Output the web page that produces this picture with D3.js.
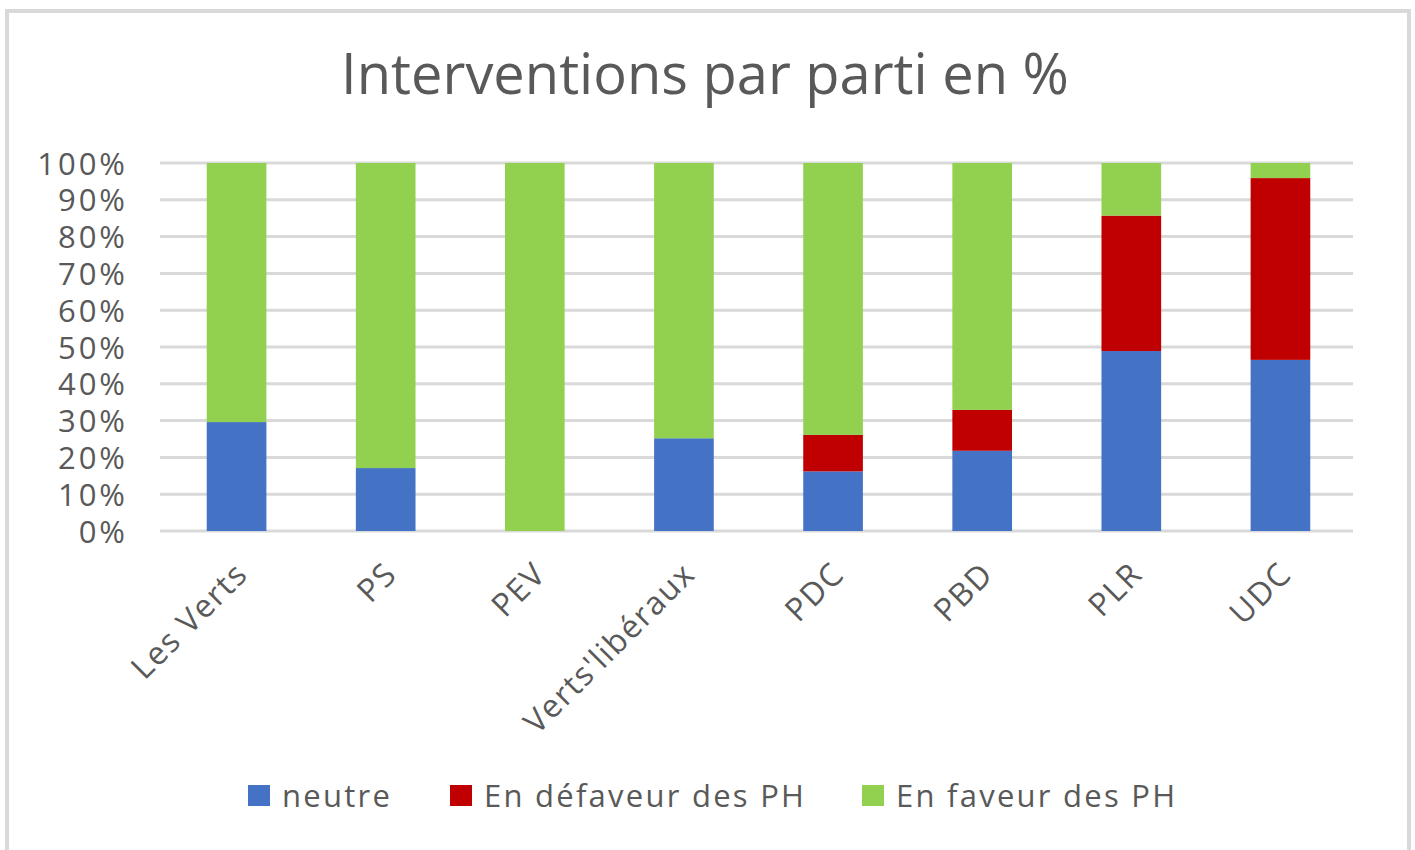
<!DOCTYPE html>
<html>
<head>
<meta charset="utf-8">
<script src="https://cdn.jsdelivr.net/npm/d3@7"></script>
<style>
  body { margin: 0; background: #fff; }
  text { font-family: "Open Sans", "Noto Sans", sans-serif; fill: #595959; }
</style>
</head>
<body>
<svg id="chart"></svg>
<script>
// data (percent)
let parties = ['Les Verts', 'PS', 'PEV', "Verts'libéraux", 'PDC', 'PBD', 'PLR', 'UDC'];
let neutre = [29.6, 17.1, 0, 25.2, 16.2, 21.8, 48.9, 46.5];
let defaveur = [0, 0, 0, 0, 9.9, 11.1, 36.8, 49.4];
let faveur = [70.4, 82.9, 100, 74.8, 73.9, 67.1, 14.3, 4.1];
let seriesNames = ['neutre', 'En défaveur des PH', 'En faveur des PH'];
let colors = ['#4472C4', '#C00000', '#92D050'];
let yTicks = [0, 10, 20, 30, 40, 50, 60, 70, 80, 90, 100];

let width = 1415;
let height = 850;
let plotLeft = 160, plotRight = 1353, plotTop = 163, plotBottom = 531;

let svg = d3.select('#chart').attr('width', width).attr('height', height);

// outer frame
svg.append('rect')
    .attr('x', 7).attr('y', 11)
    .attr('width', 1402).attr('height', 860)
    .attr('fill', 'none')
    .attr('stroke', '#d9d9d9')
    .attr('stroke-width', 4);

svg.append('text')
    .attr('x', 705).attr('y', 94)
    .attr('text-anchor', 'middle')
    .style('font-size', '56px')
    .text('Interventions par parti en %');

let table = parties.map((p, i) => ({ party: p, s0: neutre[i], s1: defaveur[i], s2: faveur[i] }));
let stack = d3.stack().keys(['s0', 's1', 's2'])(table);

let xScale = d3.scaleBand().domain(parties).range([plotLeft + 2, plotRight + 2]).paddingInner(0.6).paddingOuter(0.3);
let yScale = d3.scaleLinear().domain([0, 100]).range([plotBottom, plotTop]);

// gridlines
svg.append('g')
    .selectAll('line')
    .data(yTicks)
    .enter()
    .append('line')
    .attr('x1', plotLeft).attr('x2', plotRight)
    .attr('y1', (d) => yScale(d)).attr('y2', (d) => yScale(d))
    .attr('stroke', '#d9d9d9')
    .attr('stroke-width', 3);

// y axis labels
let yAxis = d3.axisLeft(yScale).tickValues(yTicks).tickFormat((d) => d + '%').tickSize(0).tickPadding(0);
let gy = svg.append('g').attr('transform', 'translate(128,0)').call(yAxis);
gy.select('.domain').remove();
gy.selectAll('text')
    .style('font-size', '31px')
    .style('letter-spacing', '3px')
    .style('font-family', '"Open Sans", sans-serif')
    .attr('fill', '#595959')
    .attr('dy', '0.36em');

// bars
svg.append('g')
    .selectAll('g')
    .data(stack)
    .enter()
    .append('g')
    .attr('fill', (d, i) => colors[i])
    .selectAll('rect')
    .data((d) => d)
    .enter()
    .append('rect')
    .attr('x', (d) => xScale(d.data.party))
    .attr('width', xScale.bandwidth())
    .attr('y', (d) => yScale(d[1]))
    .attr('height', (d) => yScale(d[0]) - yScale(d[1]));

// x axis labels
let xAxis = d3.axisBottom(xScale).tickSize(0).tickPadding(0);
let gx = svg.append('g').attr('transform', 'translate(0,' + plotBottom + ')').call(xAxis);
gx.select('.domain').remove();
gx.selectAll('text')
    .style('font-size', '32px')
    .style('letter-spacing', '1.5px')
    .style('font-family', '"Open Sans", sans-serif')
    .attr('fill', '#595959')
    .attr('text-anchor', 'end')
    .attr('dy', '0')
    .attr('y', 0)
    .attr('transform', 'translate(13,45) rotate(-45)');

// legend
let legendX = [248, 450, 862];
let legend = svg.append('g')
    .selectAll('g')
    .data(seriesNames)
    .enter()
    .append('g')
    .attr('transform', (d, i) => 'translate(' + legendX[i] + ',785)');
legend.append('rect')
    .attr('width', 22).attr('height', 21)
    .attr('fill', (d, i) => colors[i]);
legend.append('text')
    .attr('x', 34).attr('y', 11)
    .attr('dy', '0.36em')
    .style('font-size', '31px')
    .style('letter-spacing', '2.25px')
    .text((d) => d);
</script>
</body>
</html>
